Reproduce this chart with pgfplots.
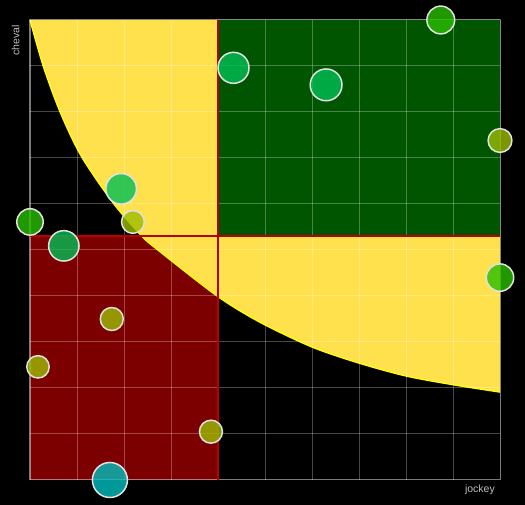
\documentclass[border=0pt]{standalone}
\usepackage{pgfplots}
\pgfplotsset{compat=1.18}
\usepackage{fontspec}
\setmainfont{Liberation Sans}

\definecolor{zoneyellow}{RGB}{255,225,77}
\definecolor{edgeyellow}{RGB}{255,255,0}
\definecolor{zonegreen}{RGB}{0,85,0}
\definecolor{zonered}{RGB}{125,0,0}
\definecolor{splitred}{RGB}{185,0,0}
\definecolor{bgreen}{RGB}{0,191,85}
\definecolor{blime}{RGB}{42,191,0}
\definecolor{bolive}{RGB}{155,188,0}
\definecolor{bteal}{RGB}{0,191,191}
\definecolor{rim}{RGB}{225,225,225}
\definecolor{labelgray}{RGB}{190,190,190}

\pgfplotsset{
  quad/.style={
    at={(30pt,25pt)}, anchor=south west,
    scale only axis, width=470pt, height=460pt,
    xmin=0, xmax=10, ymin=0, ymax=10,
    clip=false,
  },
  bubble/.style 2 args={
    only marks, mark=*, mark size=#2,
    mark options={fill=#1, fill opacity=0.8, draw=rim, line width=1.5pt},
  },
}

% boundary of the yellow zone (jockey, cheval)
\pgfplotstableread{
x     y
0     10
0.28  9.0
0.64  8.0
1.09  7.04
1.77  6.02
2.38  5.30
2.72  5.0
3.98  4.0
4.89  3.43
6.0   2.89
7.0   2.54
8.0   2.26
9.0   2.07
10    1.91
}\boundary

\begin{document}
\begin{tikzpicture}[x=1pt,y=1pt]
\fill[black] (0,0) rectangle (525,505);

% coloured zones
\begin{axis}[quad, hide axis]
  \addplot[draw=none, fill=zonered, mark=none]
    coordinates {(0,0) (4,0) (4,5.3) (0,5.3)};
  \addplot[draw=none, fill=zoneyellow, mark=none, smooth]
    table {\boundary} -- (axis cs:10,10) -- cycle;
  \addplot[draw=edgeyellow, line width=1.3pt, mark=none, smooth]
    table {\boundary};
  \addplot[draw=none, fill=zonegreen, mark=none]
    coordinates {(4,5.3) (10,5.3) (10,10) (4,10)};
\end{axis}

% grid, split lines and bubbles
\begin{axis}[quad,
    xtick={0,...,10}, ytick={0,...,10},
    xticklabel={}, yticklabel={},
    major tick length=0pt,
    grid=major,
    grid style={draw=white, draw opacity=0.28, line width=1pt},
    axis line style={draw=white, draw opacity=0.28, line width=1pt},
  ]
  \addplot[splitred, line width=2pt, mark=none] coordinates {(0,5.3) (10,5.3)};
  \addplot[splitred, line width=2pt, mark=none] coordinates {(4,0) (4,10)};

  \addplot[bubble={bgreen}{15.5pt}] coordinates {(4.33,8.96)};
  \addplot[bubble={bgreen}{15.9pt}] coordinates {(6.30,8.59)};
  \addplot[bubble={blime}{13.9pt}]  coordinates {(8.74,10.0)};
  \addplot[bubble={bolive}{11.9pt}] coordinates {(10,7.38)};
  \addplot[bubble={blime}{13.7pt}]  coordinates {(10,4.40)};
  \addplot[bubble={bgreen}{15.3pt}] coordinates {(1.94,6.33)};
  \addplot[bubble={bolive}{11.4pt}] coordinates {(2.19,5.61)};
  \addplot[bubble={blime}{13.2pt}]  coordinates {(0,5.61)};
  \addplot[bubble={bgreen}{15.2pt}] coordinates {(0.72,5.09)};
  \addplot[bubble={bolive}{11.5pt}] coordinates {(1.74,3.50)};
  \addplot[bubble={bolive}{11.2pt}] coordinates {(0.17,2.46)};
  \addplot[bubble={bolive}{11.5pt}] coordinates {(3.85,1.05)};
  \addplot[bubble={bteal}{17.5pt}]  coordinates {(1.70,0.0)};
\end{axis}

\node[rotate=90, anchor=base east, text=labelgray, font=\fontsize{10.5}{12}\selectfont, inner sep=0pt]
  at (19.3,480) {cheval};
\node[anchor=base east, text=labelgray, font=\fontsize{10.5}{12}\selectfont, inner sep=0pt]
  at (495,12) {jockey};

\pgfresetboundingbox
\useasboundingbox (0,0) rectangle (525,505);
\end{tikzpicture}
\end{document}
